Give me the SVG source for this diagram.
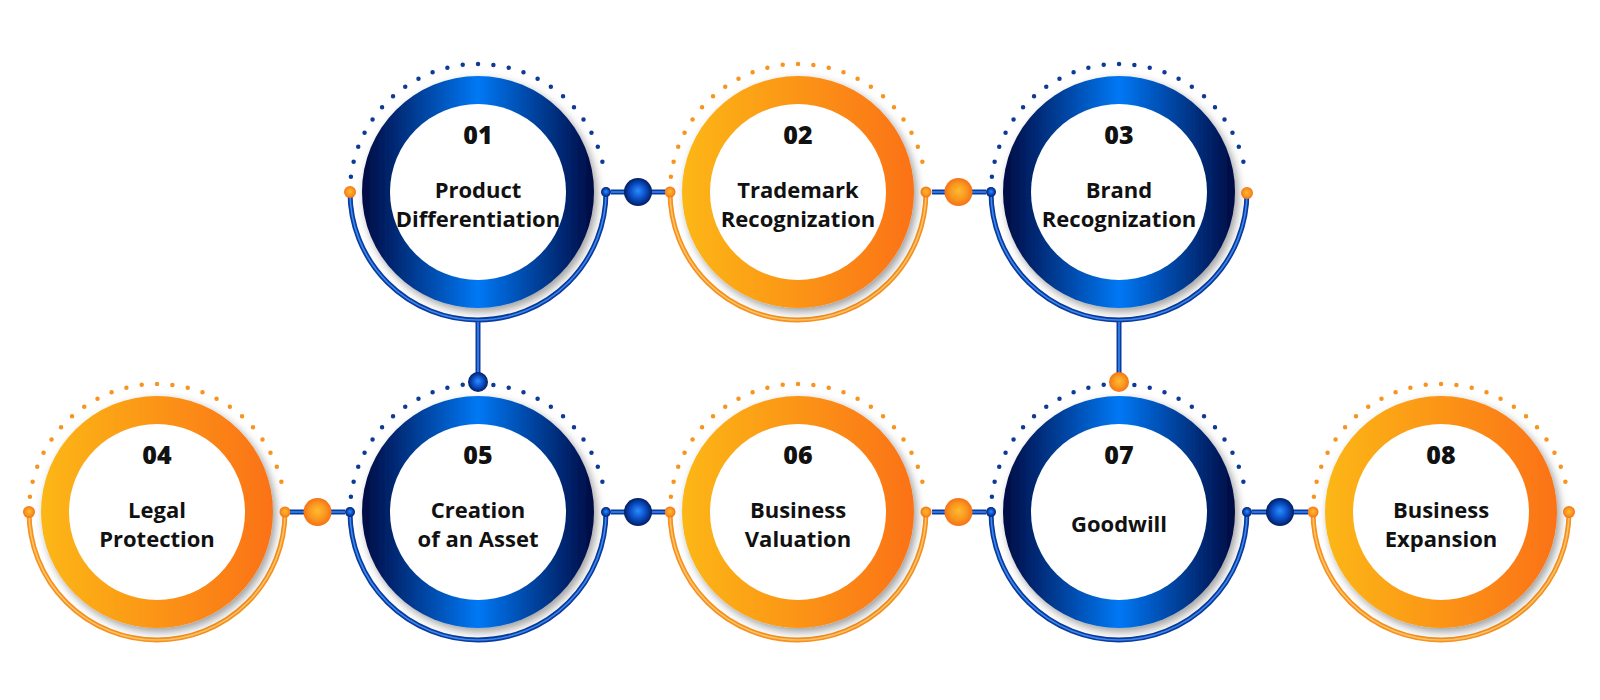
<svg xmlns="http://www.w3.org/2000/svg" width="1600" height="700" viewBox="0 0 1600 700">
<defs>
  <linearGradient id="gBlue" x1="0" y1="0" x2="1" y2="0">
    <stop offset="0" stop-color="#000a42"/>
    <stop offset="0.5" stop-color="#0678f5"/>
    <stop offset="1" stop-color="#000a42"/>
  </linearGradient>
  <linearGradient id="gOrange" x1="0" y1="0" x2="1" y2="0">
    <stop offset="0" stop-color="#fcb716"/>
    <stop offset="1" stop-color="#fb7215"/>
  </linearGradient>
  <radialGradient id="bBlue" cx="0.5" cy="0.5" r="0.5" fx="0.5" fy="0.45">
    <stop offset="0" stop-color="#2b8dff"/>
    <stop offset="0.55" stop-color="#0a4fc4"/>
    <stop offset="1" stop-color="#021d66"/>
  </radialGradient>
  <radialGradient id="bOrange" cx="0.5" cy="0.5" r="0.5" fx="0.5" fy="0.45">
    <stop offset="0" stop-color="#fdbc2e"/>
    <stop offset="0.6" stop-color="#fa9620"/>
    <stop offset="1" stop-color="#f57214"/>
  </radialGradient>
  <filter id="shadow" x="-20%" y="-20%" width="150%" height="150%">
    <feDropShadow dx="3" dy="4" stdDeviation="4" flood-color="#000" flood-opacity="0.38"/>
  </filter>
  <path id="dots" d="M -127.1 -15.2 A 128 128 0 0 1 127.1 -15.2"/>
  <path id="arc" d="M -128 0 A 128 128 0 0 0 128 0"/>
</defs>
<style>
  .dotsB{fill:none;stroke:#0c3a94;stroke-width:4.5;stroke-linecap:round;stroke-dasharray:0 15.48}
  .dotsO{fill:none;stroke:#f7931e;stroke-width:4.5;stroke-linecap:round;stroke-dasharray:0 15.48}
  .arcB{fill:none;stroke:#0a3a9e;stroke-width:5}
  .arcBi{fill:none;stroke:#3a8af2;stroke-width:1.6}
  .arcO{fill:none;stroke:#f7901c;stroke-width:5}
  .arcOi{fill:none;stroke:#fdc468;stroke-width:1.6}
  .ringB{fill:url(#gBlue);filter:url(#shadow)}
  .ringO{fill:url(#gOrange);filter:url(#shadow)}
  .inner{fill:#ffffff}
  .epB{fill:url(#bBlue)}
  .epO{fill:url(#bOrange)}
  .num{font-family:"Open Sans","Liberation Sans",sans-serif;font-weight:800;font-size:25px;text-anchor:middle;fill:#111}
  .lbl{font-family:"Open Sans","Liberation Sans",sans-serif;font-weight:700;font-size:22px;text-anchor:middle;fill:#111}
  .line{fill:none;stroke:#0a3a9e;stroke-width:5}
  .linei{fill:none;stroke:#3a8af2;stroke-width:1.6}
</style>
<rect width="1600" height="700" fill="#ffffff"/>

<g id="node-01" transform="translate(478,192)">
  <use href="#dots" class="dotsB"/>
  <use href="#arc" class="arcB"/><use href="#arc" class="arcBi"/>
  <circle r="116" class="ringB"/>
  <circle r="88" class="inner"/>
  <circle cx="-128" cy="0" r="6" class="epO"/>
  <circle cx="128" cy="0" r="5" class="epB"/>
  <text class="num" y="-48">01</text>
  <text class="lbl" y="6">Product</text>
  <text class="lbl" y="35">Differentiation</text>
</g>

<g id="node-02" transform="translate(798,192)">
  <use href="#dots" class="dotsO"/>
  <use href="#arc" class="arcO"/><use href="#arc" class="arcOi"/>
  <circle r="116" class="ringO"/>
  <circle r="88" class="inner"/>
  <circle cx="-128" cy="0" r="5.5" class="epO"/>
  <circle cx="128" cy="0" r="5.5" class="epO"/>
  <text class="num" y="-48">02</text>
  <text class="lbl" y="6">Trademark</text>
  <text class="lbl" y="35">Recognization</text>
</g>

<g id="node-03" transform="translate(1119,192)">
  <use href="#dots" class="dotsB"/>
  <use href="#arc" class="arcB"/><use href="#arc" class="arcBi"/>
  <circle r="116" class="ringB"/>
  <circle r="88" class="inner"/>
  <circle cx="-128" cy="0" r="5" class="epB"/>
  <circle cx="128" cy="1" r="6" class="epO"/>
  <text class="num" y="-48">03</text>
  <text class="lbl" y="6">Brand</text>
  <text class="lbl" y="35">Recognization</text>
</g>

<g id="node-04" transform="translate(157,512)">
  <use href="#dots" class="dotsO"/>
  <use href="#arc" class="arcO"/><use href="#arc" class="arcOi"/>
  <circle r="116" class="ringO"/>
  <circle r="88" class="inner"/>
  <circle cx="-128" cy="0" r="6" class="epO"/>
  <circle cx="128" cy="0" r="5.5" class="epO"/>
  <text class="num" y="-48">04</text>
  <text class="lbl" y="6">Legal</text>
  <text class="lbl" y="35">Protection</text>
</g>

<g id="node-05" transform="translate(478,512)">
  <use href="#dots" class="dotsB"/>
  <use href="#arc" class="arcB"/><use href="#arc" class="arcBi"/>
  <circle r="116" class="ringB"/>
  <circle r="88" class="inner"/>
  <circle cx="-128" cy="0" r="5" class="epB"/>
  <circle cx="128" cy="0" r="5" class="epB"/>
  <text class="num" y="-48">05</text>
  <text class="lbl" y="6">Creation</text>
  <text class="lbl" y="35">of an Asset</text>
</g>

<g id="node-06" transform="translate(798,512)">
  <use href="#dots" class="dotsO"/>
  <use href="#arc" class="arcO"/><use href="#arc" class="arcOi"/>
  <circle r="116" class="ringO"/>
  <circle r="88" class="inner"/>
  <circle cx="-128" cy="0" r="5.5" class="epO"/>
  <circle cx="128" cy="0" r="5.5" class="epO"/>
  <text class="num" y="-48">06</text>
  <text class="lbl" y="6">Business</text>
  <text class="lbl" y="35">Valuation</text>
</g>

<g id="node-07" transform="translate(1119,512)">
  <use href="#dots" class="dotsB"/>
  <use href="#arc" class="arcB"/><use href="#arc" class="arcBi"/>
  <circle r="116" class="ringB"/>
  <circle r="88" class="inner"/>
  <circle cx="-128" cy="0" r="5" class="epB"/>
  <circle cx="128" cy="0" r="5" class="epB"/>
  <text class="num" y="-48">07</text>
  <text class="lbl" y="20">Goodwill</text>
</g>

<g id="node-08" transform="translate(1441,512)">
  <use href="#dots" class="dotsO"/>
  <use href="#arc" class="arcO"/><use href="#arc" class="arcOi"/>
  <circle r="116" class="ringO"/>
  <circle r="88" class="inner"/>
  <circle cx="-128" cy="0" r="5.5" class="epO"/>
  <circle cx="128" cy="0" r="6" class="epO"/>
  <text class="num" y="-48">08</text>
  <text class="lbl" y="6">Business</text>
  <text class="lbl" y="35">Expansion</text>
</g>

<g id="connectors">
  <path d="M 611 192 H 665" class="line"/><path d="M 611 192 H 665" class="linei"/>
  <circle cx="638" cy="192" r="14" class="epB"/>
  <path d="M 932 192 H 986" class="line"/><path d="M 932 192 H 986" class="linei"/>
  <circle cx="958.5" cy="192" r="14" class="epO"/>
  <path d="M 478 322 V 375" class="line"/><path d="M 478 322 V 375" class="linei"/>
  <circle cx="478" cy="382" r="10" class="epB"/>
  <path d="M 1119 322 V 375" class="line"/><path d="M 1119 322 V 375" class="linei"/>
  <circle cx="1119" cy="382" r="10" class="epO"/>
  <path d="M 290 512 H 345" class="line"/><path d="M 290 512 H 345" class="linei"/>
  <circle cx="317.5" cy="512" r="14" class="epO"/>
  <path d="M 611 512 H 665" class="line"/><path d="M 611 512 H 665" class="linei"/>
  <circle cx="638" cy="512" r="14" class="epB"/>
  <path d="M 932 512 H 986" class="line"/><path d="M 932 512 H 986" class="linei"/>
  <circle cx="958.5" cy="512" r="14" class="epO"/>
  <path d="M 1252 512 H 1308" class="line"/><path d="M 1252 512 H 1308" class="linei"/>
  <circle cx="1280" cy="512" r="14" class="epB"/>
</g>
</svg>
